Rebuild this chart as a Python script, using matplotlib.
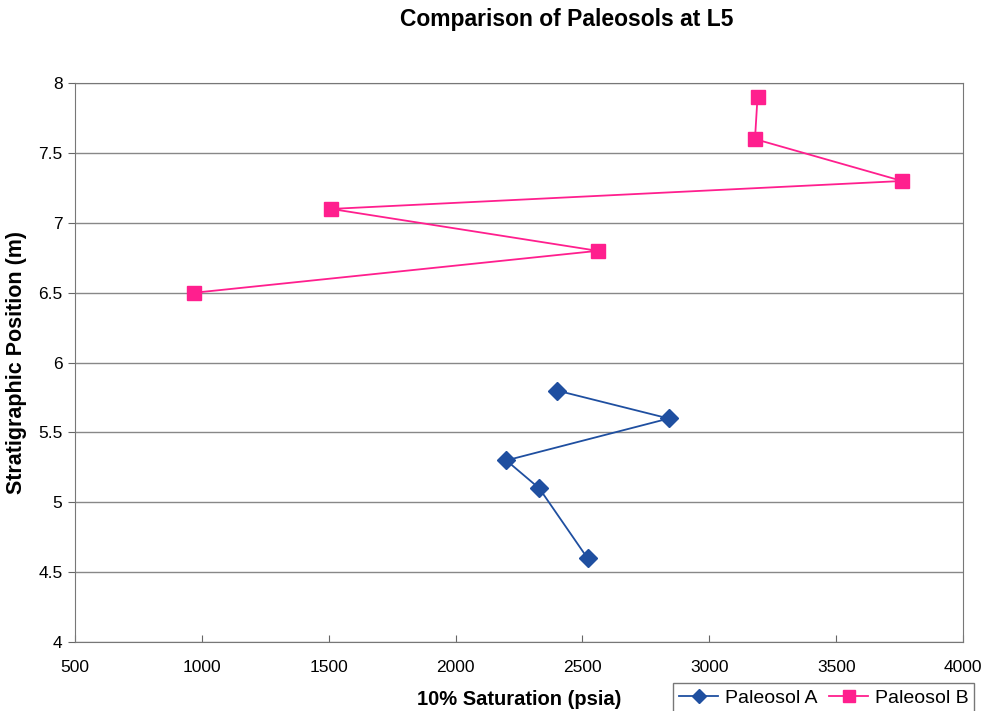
import matplotlib.pyplot as plt

plt.rcParams['font.family'] = ['Liberation Sans', 'DejaVu Sans']

# Paleosol A
a_sat = [2400, 2840, 2200, 2330, 2520]
a_pos = [5.8, 5.6, 5.3, 5.1, 4.6]

# Paleosol B
b_sat = [3190, 3180, 3760, 1510, 2560, 970]
b_pos = [7.9, 7.6, 7.3, 7.1, 6.8, 6.5]

x_ticks = [500, 1000, 1500, 2000, 2500, 3000, 3500, 4000]
y_ticks = [4, 4.5, 5, 5.5, 6, 6.5, 7, 7.5, 8]

fig = plt.figure(figsize=(9.84, 7.11), dpi=100)
ax = fig.add_axes([0.0762, 0.097, 0.9025, 0.786])

ax.plot(a_sat, a_pos, color='#1f4fa0', marker='D', markersize=9,
        linewidth=1.3, label='Paleosol A')
ax.plot(b_sat, b_pos, color='#ff1f8e', marker='s', markersize=10,
        linewidth=1.3, label='Paleosol B')

ax.set_xlim(500, 4000)
ax.set_ylim(4, 8)
ax.set_xticks(x_ticks)
ax.set_yticks(y_ticks)
ax.set_yticklabels([f'{v:g}' for v in y_ticks])
ax.tick_params(axis='x', direction='in', length=5, labelsize=12.5, pad=13, color='#666666')
ax.tick_params(axis='y', direction='out', length=5, labelsize=12.5, pad=4, color='#666666')
ax.grid(axis='y', color='#888888', linewidth=1)
ax.set_axisbelow(True)
for s in ax.spines.values():
    s.set_color('#777777')

ax.set_xlabel('10% Saturation (psia)', fontsize=14.5, fontweight='bold', labelpad=11)
ax.set_ylabel('Stratigraphic Position (m)', fontsize=15.5, fontweight='bold', labelpad=8)
fig.text(0.576, 0.972, 'Comparison of Paleosols at L5', fontsize=16.5,
         fontweight='bold', ha='center', va='center')

leg = fig.legend(loc='lower right', bbox_to_anchor=(1.0, -0.016), ncol=2,
                 fontsize=14, frameon=True, fancybox=False, edgecolor='#555555',
                 handlelength=2.0, columnspacing=0.6, handletextpad=0.35,
                 borderpad=0.3, markerscale=0.8)
leg.get_frame().set_linewidth(1)

plt.savefig('out.png', dpi=100)
